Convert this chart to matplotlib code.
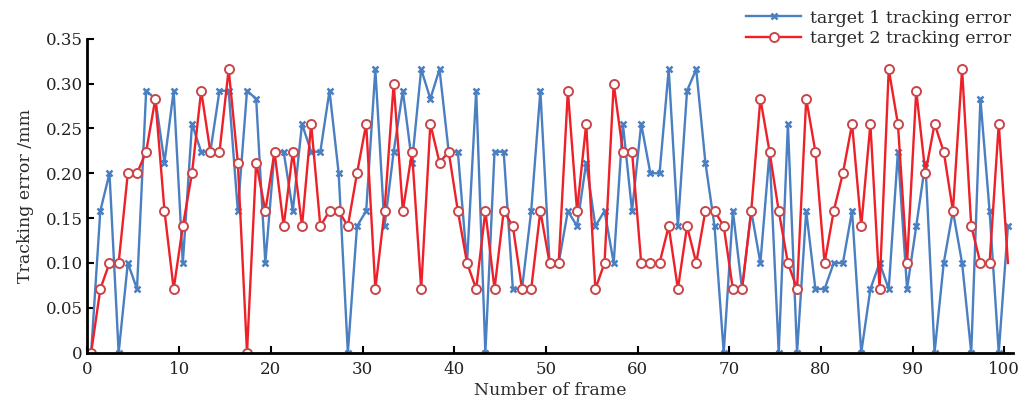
import numpy as np
import matplotlib
matplotlib.use("Agg")
import matplotlib.pyplot as plt

plt.rcParams['font.family'] = ['DejaVu Serif']

# frame positions (101 samples, slightly offset from integer ticks)
frames = np.arange(101) + 0.4

target1 = [0, 0.158, 0.2, 0, 0.1, 0.071, 0.292, 0.283, 0.212, 0.292,
           0.1, 0.255, 0.224, 0.224, 0.292, 0.292, 0.158, 0.292, 0.283, 0.1,
           0.224, 0.224, 0.158, 0.255, 0.224, 0.224, 0.292, 0.2, 0, 0.141,
           0.158, 0.316, 0.141, 0.224, 0.292, 0.212, 0.316, 0.283, 0.316, 0.224,
           0.224, 0.1, 0.292, 0, 0.224, 0.224, 0.071, 0.071, 0.158, 0.292,
           0.1, 0.1, 0.158, 0.141, 0.212, 0.141, 0.158, 0.1, 0.255, 0.158,
           0.255, 0.2, 0.2, 0.316, 0.141, 0.292, 0.316, 0.212, 0.141, 0,
           0.158, 0.071, 0.158, 0.1, 0.224, 0, 0.255, 0, 0.158, 0.071,
           0.071, 0.1, 0.1, 0.158, 0, 0.071, 0.1, 0.071, 0.224, 0.071,
           0.141, 0.212, 0, 0.1, 0.158, 0.1, 0, 0.283, 0.158, 0, 0.141]

target2 = [0, 0.071, 0.1, 0.1, 0.2, 0.2, 0.224, 0.283, 0.158, 0.071,
           0.141, 0.2, 0.292, 0.224, 0.224, 0.316, 0.212, 0, 0.212, 0.158,
           0.224, 0.141, 0.224, 0.141, 0.255, 0.141, 0.158, 0.158, 0.141, 0.2,
           0.255, 0.071, 0.158, 0.3, 0.158, 0.224, 0.071, 0.255, 0.212, 0.224,
           0.158, 0.1, 0.071, 0.158, 0.071, 0.158, 0.141, 0.071, 0.071, 0.158,
           0.1, 0.1, 0.292, 0.158, 0.255, 0.071, 0.1, 0.3, 0.224, 0.224,
           0.1, 0.1, 0.1, 0.141, 0.071, 0.141, 0.1, 0.158, 0.158, 0.141,
           0.071, 0.071, 0.158, 0.283, 0.224, 0.158, 0.1, 0.071, 0.283, 0.224,
           0.1, 0.158, 0.2, 0.255, 0.141, 0.255, 0.071, 0.316, 0.255, 0.1,
           0.292, 0.2, 0.255, 0.224, 0.158, 0.316, 0.141, 0.1, 0.1, 0.255, 0.1]

yticks = [0, 0.05, 0.10, 0.15, 0.20, 0.25, 0.30, 0.35]
ytick_labels = ['0', '0.05', '0.10', '0.15', '0.20', '0.25', '0.30', '0.35']
xticks = [0, 10, 20, 30, 40, 50, 60, 70, 80, 90, 100]

fig = plt.figure(figsize=(10.22, 4.12), dpi=100)
ax = fig.add_axes([0.0856, 0.144, 0.906, 0.762])

ax.plot(frames, target1, color='#4a7fc1', lw=1.7, marker='x', ms=5, mew=1.8,
        label='target 1 tracking error')
ax.plot(frames, target2, color='#ee2028', lw=1.7, marker='o', ms=6.5,
        mfc='white', mec='#c9474a', mew=1.4, markevery=list(range(100)),
        label='target 2 tracking error')

ax.set_xlim(0, 101)
ax.set_ylim(0, 0.35)
ax.set_xticks(xticks)
ax.set_yticks(yticks)
ax.set_yticklabels(ytick_labels)
ax.tick_params(direction='in', labelsize=12, width=1.5, length=5,
               colors='black', labelcolor='#222222')
ax.tick_params(axis='x', pad=6)

for s in ['top', 'right']:
    ax.spines[s].set_visible(False)
for s in ['left', 'bottom']:
    ax.spines[s].set_linewidth(2)

ax.set_xlabel('Number of frame', fontsize=12.5, color='#2a2a2a', labelpad=3)
ax.set_ylabel('Tracking error /mm', fontsize=12.5, color='#2a2a2a', labelpad=8)

ax.legend(loc='upper right', bbox_to_anchor=(1.005, 1.115), frameon=False,
          fontsize=12.5, handlelength=3.2, borderaxespad=0, labelspacing=0.2,
          handletextpad=0.5, labelcolor='#2a2a2a')

fig.savefig('out.png', dpi=100)
